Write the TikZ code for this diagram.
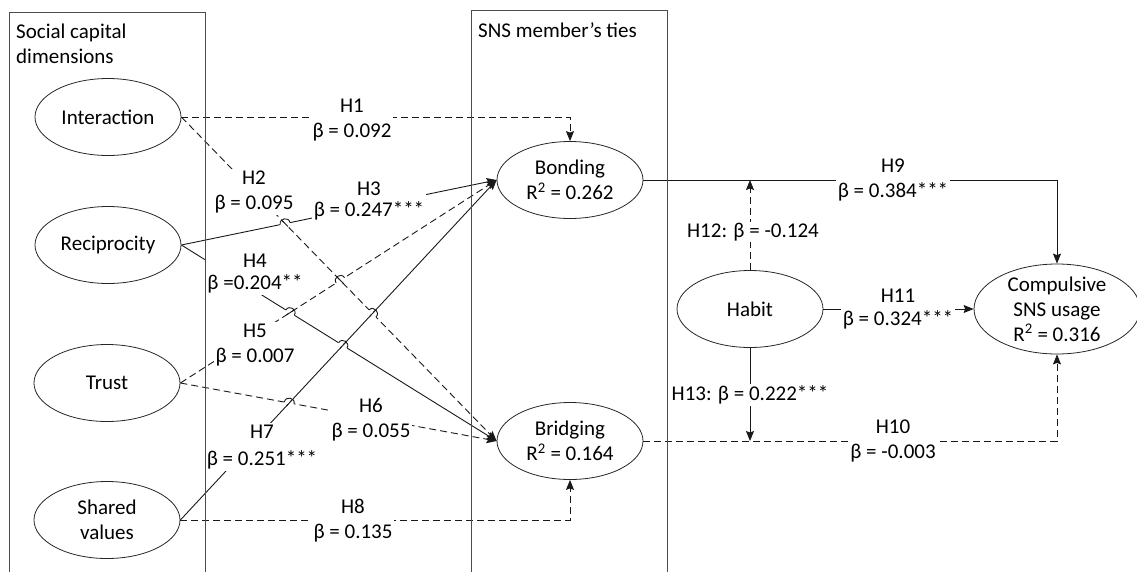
\documentclass[tikz,border=0pt]{standalone}
\usepackage{fontspec}
\setmainfont{Carlito}
\usetikzlibrary{shapes.geometric,arrows.meta,calc,intersections}
\newcommand\hopat[4]{%
  \draw[white, line width=2.6pt] ($(#1)+(#2:-5)$) -- ($(#1)+(#2:5)$);
  \draw[#4] ($(#1)+(#3:-4)$) -- ($(#1)+(#3:4)$);
  \draw[ln] ($(#1)+(#2:-5)$) .. controls ($(#1)+(#2:-5)+(#2-90:6.5)$) and ($(#1)+(#2:5)+(#2-90:6.5)$) .. ($(#1)+(#2:5)$);
}
\begin{document}
\begin{tikzpicture}[x=1pt,y=-1pt,
  ell/.style={ellipse, draw=black!85, line width=0.8pt, minimum width=146pt, minimum height=77pt, inner sep=0pt},
  txt/.style={font=\fontsize{21}{25}\selectfont, align=center, inner sep=0pt, text=black},
  lbl/.style={font=\fontsize{21}{25}\selectfont, align=center, fill=white, inner sep=1.5pt, text=black},
  ln/.style={line width=0.9pt, draw=black!90},
  dl/.style={ln, dash pattern=on 7pt off 4pt},
  arr/.style={-{Stealth[length=10pt,width=8pt,inset=1.5pt]}},
  box/.style={draw=black!70, line width=0.8pt}
]
\useasboundingbox (0,0) rectangle (1137,571);
\node[txt, align=left, anchor=north west] (t1) at (16,24) {Social capital\\dimensions};
\node[txt, align=left, anchor=north west] (t2) at (478,22) {SNS member’s ties};
% constructs
\node[ell] (int) at (108,117) {};
\node[txt] (intt) at (int) {Interaction};
\node[ell] (rec) at (108,245) {};
\node[txt] (rect) at (rec) {Reciprocity};
\node[ell] (trust) at (107,383) {};
\node[txt] (trustt) at (trust) {Trust};
\node[ell] (shared) at (107,520) {};
\node[txt] (sharedt) at (shared) {Shared\\values};
\node[ell] (bond) at (570,180) {};
\node[txt] (bondt) at (bond) {Bonding\\R\textsuperscript{2} = 0.262};
\node[ell] (bridg) at (570,441) {};
\node[txt] (bridgt) at (bridg) {Bridging\\R\textsuperscript{2} = 0.164};
\node[ell] (habit) at (750,309) {};
\node[txt] (habitt) at (habit) {Habit};
\node[ell, minimum width=166pt, minimum height=90pt] (comp) at (1057,309) {};
\node[txt] (compt) at (comp) {Compulsive\\SNS usage\\R\textsuperscript{2} = 0.316};
% connectors
\draw[dl,arr] (int.east) -| (bond.north);
\draw[dl,arr,name path=h2] (int.east) -- (bridg.west);
\draw[ln,arr,name path=h3] (rec.east) -- (bond.west);
\draw[ln,arr,name path=h4] (rec.east) -- (bridg.west);
\draw[dl,arr,name path=h5] (trust.east) -- (bond.west);
\draw[dl,arr,name path=h6] (trust.east) -- (bridg.west);
\draw[ln,arr,name path=h7] (shared.east) -- (bond.west);
\draw[dl,arr] (shared.east) -| (bridg.south);
\draw[ln,arr] (bond.east) -| (comp.north);
\draw[dl,arr] (bridg.east) -| (comp.south);
\draw[ln,arr] (habit.east) -- (comp.west);
\coordinate (c12) at (habit.north |- bond.east);
\draw[dl,arr] (habit.north) -- (c12);
\coordinate (c13) at (habit.south |- bridg.east);
\draw[ln,arr] (habit.south) -- (c13);
% line hops
\path[name intersections={of=h2 and h3, by=x23}];
\path[name intersections={of=h2 and h5, by=x25}];
\path[name intersections={of=h2 and h7, by=x27}];
\path[name intersections={of=h4 and h5, by=x45}];
\path[name intersections={of=h4 and h7, by=x47}];
\path[name intersections={of=h6 and h7, by=x67}];
\hopat{x23}{-11.4}{45.7}{ln}
\hopat{x25}{-32.6}{45.7}{ln}
\hopat{x27}{45.7}{-47.0}{ln}
\hopat{x45}{31.9}{-32.6}{ln}
\hopat{x47}{31.9}{-47.0}{ln}
\hopat{x67}{10.4}{-47.0}{ln}
% labels
\node[lbl] (l1) at (352,120) {H1\\β = 0.092};
\node[lbl] (l2) at (254,192) {H2\\β = 0.095};
\node[lbl] (l3) at (369,201) {H3\\[-4pt]β = 0.247***};
\node[lbl] (l4) at (255,274) {H4\\[-3pt]β =0.204**};
\node[lbl] (l5) at (255,345) {H5\\β = 0.007};
\node[lbl] (l6) at (371,420) {H6\\β = 0.055};
\node[lbl] (l7) at (262,447) {H7\\[2pt]β = 0.251***};
\node[lbl] (l8) at (353,521) {H8\\β = 0.135};
\node[lbl] (l9) at (893,180) {H9\\β = 0.384***};
\node[lbl] (l10) at (893,441) {H10\\β = -0.003};
\node[lbl] (l11) at (898,309) {H11\\[-2pt]β = 0.324***};
\node[lbl] (l12) at (753,232) {H12: β = -0.124};
\node[lbl] (l13) at (750,395) {H13: β = 0.222***};
% group boxes (drawn last so they stay visible)
\draw[box] (9,600) -- (9,12) -- (205,12) -- (205,600);
\draw[box] (471,600) -- (471,10) -- (667,10) -- (667,600);
\end{tikzpicture}
\end{document}
